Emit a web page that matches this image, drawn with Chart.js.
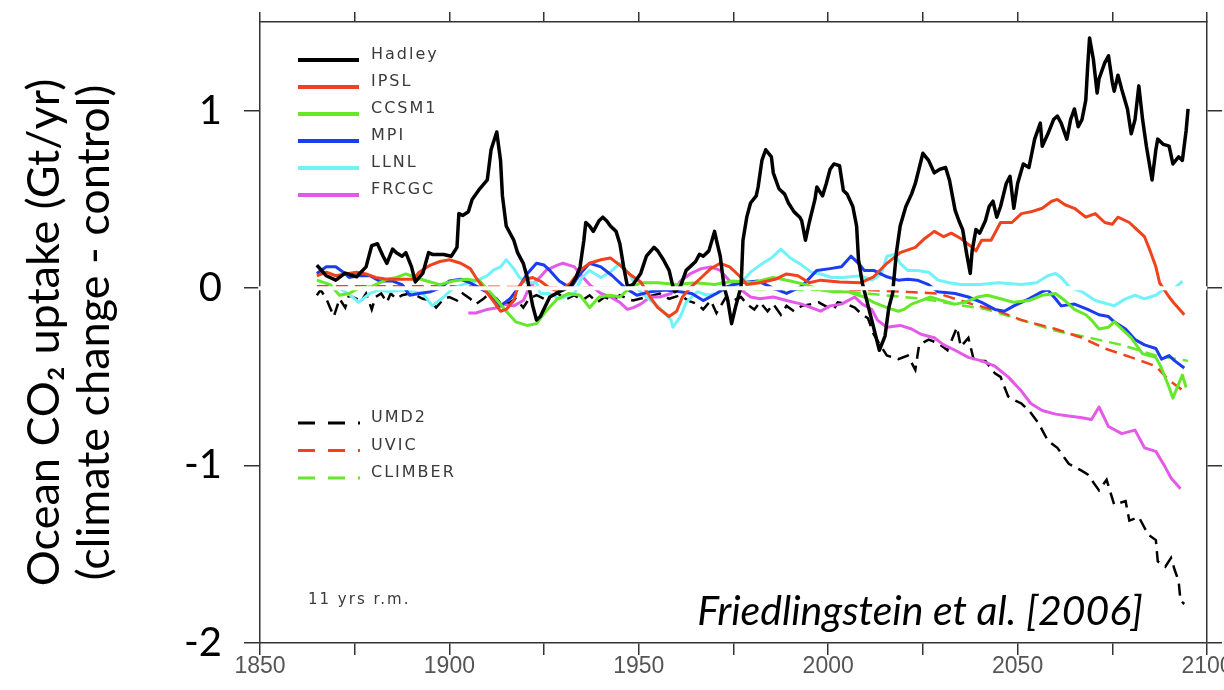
<!DOCTYPE html>
<html>
<head>
<meta charset="utf-8">
<script src="https://cdn.jsdelivr.net/npm/chart.js@4.4.1/dist/chart.umd.min.js"></script>
<style>
  html, body { margin: 0; padding: 0; background: #fff; }
  #myChart { display: block; }
</style>
</head>
<body>
<canvas id="myChart" width="1224" height="690"></canvas>
<script>
// ticks
const xTickYears = [1850, 1875, 1900, 1925, 1950, 1975, 2000, 2025, 2050, 2075, 2100];
const xLabelYears = [1850, 1900, 1950, 2000, 2050, 2100];
const yTickValues = [-2, -1, 0, 1];

// 11-year running means, [year, Gt/yr]
const hadley = [[1865,0.13],[1867.5,0.07],[1870,0.045],[1872.5,0.085],[1875.5,0.064],[1878,0.12],[1879.5,0.24],[1881,0.25],[1882.5,0.18],[1883.5,0.14],[1885,0.22],[1886,0.2],[1887.5,0.18],[1888.5,0.2],[1890,0.12],[1891,0.035],[1893,0.085],[1894.5,0.2],[1895.5,0.19],[1898.5,0.19],[1900.5,0.18],[1902,0.23],[1902.5,0.42],[1903.5,0.41],[1905,0.43],[1906,0.5],[1908,0.56],[1910,0.61],[1911,0.78],[1912.5,0.88],[1913.5,0.72],[1914,0.52],[1915,0.35],[1917,0.27],[1918,0.2],[1919.5,0.14],[1920.5,0.064],[1922,-0.1],[1923,-0.18],[1924,-0.16],[1926.5,-0.05],[1929,-0.02],[1932,0.01],[1933.5,0.064],[1934.5,0.12],[1935.5,0.27],[1936,0.37],[1937,0.35],[1938,0.32],[1939.5,0.38],[1940.5,0.4],[1941.5,0.38],[1942.5,0.35],[1944,0.32],[1945,0.25],[1946,0.12],[1947,0.01],[1948.5,0.02],[1950.5,0.083],[1952,0.18],[1954,0.23],[1955,0.21],[1956.5,0.16],[1958,0.1],[1959,0.01],[1959.5,-0.02],[1961,0.01],[1962.5,0.1],[1963.5,0.12],[1965,0.15],[1966,0.19],[1967,0.18],[1968.5,0.21],[1970,0.32],[1970.5,0.27],[1971.5,0.18],[1972.5,0.01],[1973.5,-0.07],[1974.5,-0.2],[1975.5,-0.11],[1977,0.01],[1977.5,0.27],[1978.5,0.4],[1979.5,0.48],[1981,0.52],[1981.5,0.57],[1982.5,0.72],[1983.5,0.78],[1985,0.74],[1985.5,0.65],[1987,0.56],[1988.5,0.53],[1989.5,0.48],[1991,0.43],[1992.5,0.4],[1993,0.38],[1994,0.27],[1995,0.37],[1996.5,0.5],[1997,0.57],[1998.5,0.52],[1999.5,0.59],[2000.5,0.67],[2001.5,0.7],[2003,0.69],[2004,0.55],[2005,0.53],[2006.5,0.46],[2007.5,0.35],[2008,0.16],[2009,0.03],[2011.5,-0.18],[2013.5,-0.35],[2015,-0.27],[2016,-0.11],[2017,-0.03],[2018,0.2],[2019,0.35],[2020.5,0.46],[2022,0.53],[2023,0.59],[2025,0.76],[2026.5,0.72],[2028,0.65],[2029.5,0.67],[2031,0.68],[2032,0.61],[2033.5,0.44],[2034.5,0.38],[2035.5,0.33],[2036.5,0.2],[2037.5,0.083],[2038,0.21],[2039,0.33],[2040,0.31],[2041.5,0.38],[2042.5,0.46],[2043.5,0.49],[2044.5,0.4],[2045.5,0.46],[2047,0.59],[2048,0.63],[2049,0.45],[2050,0.59],[2051.5,0.7],[2053,0.68],[2054.5,0.84],[2056,0.93],[2056.5,0.8],[2058,0.87],[2059.5,0.95],[2060.5,0.97],[2061.5,0.93],[2063,0.84],[2064,0.95],[2065,1.01],[2066,0.91],[2067,0.95],[2068,1.06],[2068.5,1.25],[2069,1.41],[2070,1.29],[2071,1.1],[2071.5,1.18],[2073,1.27],[2074,1.31],[2075,1.16],[2075.5,1.11],[2076.5,1.2],[2077.5,1.12],[2079,1.01],[2080,0.87],[2081,0.95],[2082,1.14],[2083,0.95],[2084,0.8],[2085.5,0.61],[2086.5,0.78],[2087,0.84],[2088.5,0.81],[2090,0.8],[2091,0.7],[2092.5,0.74],[2093.5,0.72],[2094.5,0.89],[2095,1.01]];

const ipsl = [[1865,0.07],[1867.5,0.09],[1870,0.07],[1872.5,0.08],[1875.5,0.09],[1878,0.08],[1880.5,0.06],[1883.5,0.05],[1887,0.05],[1890.5,0.05],[1892,0.09],[1895,0.13],[1897.5,0.15],[1900,0.16],[1903,0.14],[1905.5,0.11],[1907,0.06],[1909,0],[1911.5,-0.07],[1913.5,-0.13],[1915,-0.12],[1917,-0.07],[1918,0],[1920,0.05],[1922,0.06],[1924,0.04],[1926.5,0],[1929,-0.02],[1932,0.03],[1934.5,0.1],[1937,0.14],[1940,0.16],[1942.5,0.17],[1945,0.13],[1947.5,0.08],[1950.5,0.035],[1953,-0.05],[1955,-0.11],[1958,-0.16],[1960,-0.13],[1961.5,-0.05],[1963.5,0],[1966.5,0.06],[1969,0.11],[1971.5,0.14],[1974,0.12],[1977,0.06],[1978.5,0.02],[1982,0.03],[1986,0.05],[1989,0.08],[1992,0.07],[1995,0.03],[1998,0.045],[2003,0.035],[2008.5,0.03],[2012,0.064],[2015.5,0.14],[2019,0.2],[2023,0.23],[2025.5,0.28],[2028,0.32],[2030.5,0.29],[2032.5,0.31],[2035,0.28],[2038,0.23],[2039,0.21],[2040.5,0.27],[2043,0.27],[2045.5,0.37],[2048.5,0.37],[2051,0.42],[2053.5,0.43],[2056.5,0.45],[2059,0.49],[2060.5,0.5],[2062.5,0.47],[2065,0.45],[2068,0.4],[2070.5,0.42],[2073,0.37],[2075,0.36],[2076.5,0.4],[2079.5,0.37],[2081.5,0.33],[2083.5,0.29],[2085,0.21],[2086.5,0.12],[2087.5,0.03],[2090,-0.05],[2091.5,-0.09],[2094,-0.15]];

const ccsm1 = [[1865,0.045],[1868.5,0.02],[1871,-0.04],[1873.5,-0.03],[1876,0],[1879.5,0.01],[1883.5,0.05],[1886,0.06],[1888.5,0.08],[1891,0.06],[1894,0.04],[1897.5,0.02],[1901,0.04],[1904.5,0.05],[1908,0.04],[1911.5,-0.04],[1915,-0.13],[1917.5,-0.19],[1920.5,-0.21],[1923,-0.2],[1925.5,-0.13],[1928.5,-0.06],[1931.5,-0.03],[1934.5,-0.04],[1937,-0.11],[1939.5,-0.05],[1942.5,-0.04],[1945,-0.05],[1947.5,0],[1950.5,0.03],[1955,0.03],[1960,0.02],[1965,0.03],[1970,0.02],[1975,0.04],[1980,0.03],[1985.5,0.06],[1990,0.04],[1994,0.02],[1998,-0.01],[2001.5,-0.02],[2005,-0.02],[2009.5,-0.05],[2012,-0.08],[2015.5,-0.11],[2018.5,-0.13],[2020,-0.12],[2022,-0.09],[2024.5,-0.07],[2027,-0.05],[2030,-0.07],[2033.5,-0.09],[2036,-0.08],[2039.5,-0.05],[2042,-0.04],[2045.5,-0.06],[2049,-0.08],[2053,-0.07],[2056.5,-0.04],[2060,-0.03],[2062.5,-0.07],[2065,-0.12],[2068,-0.15],[2069.5,-0.18],[2071.5,-0.23],[2074,-0.22],[2075.5,-0.19],[2077.5,-0.23],[2080,-0.28],[2083,-0.37],[2086.5,-0.39],[2088,-0.45],[2090,-0.56],[2091,-0.62],[2092.5,-0.54],[2093.5,-0.49],[2094.5,-0.56]];

const mpi = [[1865,0.083],[1867.5,0.12],[1870,0.12],[1872,0.09],[1873.5,0.06],[1876,0.07],[1879,0.07],[1881.5,0.04],[1885,0.04],[1887.5,0.02],[1889.5,-0.04],[1892,-0.03],[1895,-0.02],[1897.5,0],[1900,0.04],[1903,0.05],[1905.5,0.03],[1908,0],[1910.5,-0.03],[1913.5,-0.1],[1916,-0.06],[1918.5,0.01],[1920.5,0.08],[1923,0.14],[1925,0.13],[1926.5,0.1],[1929,0.04],[1932,0],[1934.5,0.08],[1937,0.14],[1940,0.12],[1943,0.07],[1946.5,0],[1949.5,-0.04],[1953,-0.02],[1957,-0.01],[1961,-0.02],[1964,-0.03],[1967,-0.07],[1970.5,-0.03],[1973.5,0.01],[1977,0.03],[1981.5,0.04],[1985.5,0],[1989,-0.03],[1993,0.01],[1997,0.1],[2000.5,0.11],[2003.5,0.12],[2006,0.18],[2008,0.14],[2009.5,0.1],[2012,0.1],[2015.5,0.064],[2018.5,0.045],[2021,0.05],[2023.5,0.045],[2026.5,0.02],[2029,-0.02],[2033.5,-0.03],[2037,-0.05],[2040.5,-0.08],[2044,-0.12],[2046.5,-0.13],[2049,-0.1],[2053,-0.06],[2056.5,-0.02],[2058,-0.01],[2060,-0.06],[2061.5,-0.1],[2065,-0.09],[2068.5,-0.12],[2071.5,-0.15],[2074,-0.16],[2075.5,-0.19],[2078.5,-0.23],[2081,-0.29],[2083.5,-0.32],[2086.5,-0.34],[2088,-0.4],[2090,-0.38],[2091.5,-0.41],[2094,-0.45]];

const llnl = [[1871,0],[1874.5,-0.05],[1876,-0.08],[1879,-0.03],[1881.5,-0.01],[1884,-0.02],[1887,-0.01],[1890,-0.02],[1893,-0.03],[1895.5,-0.1],[1898.5,-0.05],[1901,0],[1903.5,0.02],[1907,0.04],[1910,0.07],[1911.5,0.1],[1913.5,0.12],[1915,0.16],[1917,0.11],[1918.5,0.06],[1920.5,0.03],[1923,0.03],[1924,-0.03],[1926.5,-0.03],[1929,-0.06],[1933,-0.03],[1935,0.06],[1937,0.1],[1940,0.06],[1942.5,0.09],[1945,0.14],[1947.5,0.08],[1949.5,0],[1952,-0.05],[1955.5,-0.11],[1958.5,-0.18],[1959,-0.22],[1961,-0.16],[1962.5,-0.08],[1965.5,-0.02],[1968,-0.04],[1970.5,-0.03],[1973.5,0],[1977,0.03],[1979.5,0.09],[1982,0.13],[1985,0.17],[1987.5,0.22],[1990,0.17],[1993,0.13],[1995.5,0.09],[1998,0.08],[2001,0.06],[2004,0.06],[2008.5,0.07],[2011.5,0.045],[2014,0.08],[2015.5,0.18],[2017.5,0.19],[2019,0.14],[2021,0.1],[2023.5,0.1],[2026.5,0.09],[2029,0.045],[2032,0.03],[2035,0.02],[2040,0.02],[2045,0.03],[2051,0.02],[2055,0.03],[2058,0.07],[2060,0.083],[2061.5,0.06],[2064,0],[2067,-0.02],[2070.5,-0.07],[2074,-0.09],[2075.5,-0.1],[2078.5,-0.06],[2081,-0.04],[2083.5,-0.06],[2086.5,-0.04],[2089,0],[2091.5,0],[2093.5,0.04]];

const frcgc = [[1905,-0.14],[1907,-0.14],[1910,-0.12],[1912.5,-0.11],[1914,-0.09],[1917,-0.1],[1919.5,-0.07],[1921,0],[1924,0.064],[1925.5,0.1],[1928.5,0.13],[1930,0.14],[1933,0.12],[1934.5,0.08],[1937,0.02],[1940,-0.03],[1942.5,-0.05],[1945,-0.08],[1947,-0.12],[1948.5,-0.11],[1950.5,-0.09],[1953,-0.05],[1955.5,-0.05],[1958.5,-0.03],[1961,0.04],[1963.5,0.08],[1966.5,0.11],[1969,0.12],[1971.5,0.1],[1974,0.04],[1977,-0.01],[1979.5,-0.05],[1982,-0.06],[1985.5,-0.05],[1989,-0.07],[1993,-0.09],[1995.5,-0.11],[1998,-0.13],[2000.5,-0.1],[2003.5,-0.09],[2007,-0.05],[2009,-0.09],[2011.5,-0.12],[2013,-0.18],[2015.5,-0.22],[2019,-0.21],[2022,-0.23],[2024.5,-0.26],[2028,-0.28],[2030.5,-0.32],[2033.5,-0.35],[2037,-0.39],[2040.5,-0.41],[2044,-0.44],[2047.5,-0.5],[2051,-0.58],[2053.5,-0.65],[2056.5,-0.69],[2060,-0.71],[2063.5,-0.72],[2067,-0.73],[2069.5,-0.74],[2071.5,-0.67],[2074,-0.78],[2077.5,-0.82],[2081,-0.8],[2083.5,-0.9],[2086.5,-0.92],[2089,-1.01],[2090.5,-1.07],[2093,-1.13]];

const umd2 = [[1865,-0.04],[1866,-0.01],[1867.5,-0.06],[1868.5,-0.11],[1869.5,-0.16],[1871,-0.06],[1872.5,-0.11],[1873.5,-0.04],[1875.5,-0.06],[1876.5,-0.08],[1878,-0.03],[1879.5,-0.12],[1880.5,-0.05],[1882,-0.03],[1883.5,-0.08],[1884.5,-0.03],[1886,-0.06],[1887.5,-0.04],[1889.5,-0.03],[1891,-0.04],[1893,-0.06],[1895,-0.07],[1896.5,-0.11],[1898.5,-0.06],[1900,-0.05],[1902,-0.07],[1903.5,-0.03],[1905.5,-0.06],[1907,-0.09],[1909,-0.06],[1910.5,-0.03],[1912.5,-0.06],[1914,-0.1],[1916,-0.08],[1917.5,-0.06],[1919.5,-0.11],[1921,-0.06],[1923,-0.04],[1925,-0.06],[1926.5,-0.05],[1928.5,-0.03],[1931,-0.06],[1933,-0.04],[1935,-0.07],[1937,-0.04],[1939,-0.08],[1941,-0.05],[1943,-0.07],[1945,-0.04],[1947,-0.06],[1948.5,-0.07],[1952,-0.05],[1955.5,-0.03],[1958,-0.06],[1961,-0.04],[1963,-0.07],[1965.5,-0.09],[1967,-0.12],[1969,-0.07],[1970.5,-0.14],[1973,-0.05],[1975,-0.07],[1977,-0.05],[1978.5,-0.09],[1980.5,-0.12],[1982,-0.08],[1984,-0.13],[1985.5,-0.09],[1987.5,-0.15],[1989,-0.1],[1991,-0.13],[1993,-0.1],[1995.5,-0.09],[1997.5,-0.08],[2000,-0.11],[2001.5,-0.12],[2002.5,-0.08],[2005,-0.09],[2007,-0.11],[2008.5,-0.14],[2010.5,-0.17],[2012,-0.26],[2014,-0.33],[2015.5,-0.38],[2018.5,-0.4],[2021,-0.38],[2023,-0.46],[2024,-0.32],[2026.5,-0.29],[2029,-0.31],[2031.5,-0.35],[2034,-0.22],[2035,-0.33],[2037,-0.28],[2038.5,-0.41],[2041.5,-0.41],[2044,-0.48],[2045.5,-0.5],[2047.5,-0.61],[2049,-0.63],[2051,-0.65],[2053,-0.69],[2055.5,-0.76],[2056.5,-0.8],[2058,-0.86],[2060.5,-0.9],[2063.5,-0.99],[2067,-1.03],[2068.5,-1.05],[2071.5,-1.14],[2073.5,-1.08],[2075.5,-1.22],[2078.5,-1.2],[2079.5,-1.31],[2082,-1.29],[2084.5,-1.39],[2086.5,-1.42],[2087,-1.54],[2089,-1.57],[2090.5,-1.52],[2091.5,-1.59],[2092.5,-1.65],[2093,-1.76],[2094,-1.78]];

const uvic = [[1865,0.01],[1900,0.01],[1950,0],[1990,0],[2000,-0.005],[2010,-0.01],[2020,-0.02],[2029,-0.03],[2038,-0.09],[2045,-0.13],[2051,-0.18],[2060,-0.23],[2067,-0.28],[2073,-0.34],[2080,-0.39],[2086.5,-0.44],[2090,-0.52],[2094.5,-0.59]];

const climber = [[1865,0],[1950,0],[2000,-0.01],[2015,-0.04],[2025,-0.06],[2033,-0.09],[2042,-0.12],[2051,-0.18],[2060,-0.24],[2069,-0.28],[2077.5,-0.32],[2086.5,-0.38],[2095,-0.41]];

const zeroLine = [[1849.5, 0], [2100, 0]];

const solidNames = ['Hadley', 'IPSL', 'CCSM1', 'MPI', 'LLNL', 'FRCGC'];
const solidColors = ['#000000', '#f0421c', '#66e82a', '#1c3cf0', '#70f2f8', '#e45ae8'];
const dashedNames = ['UMD2', 'UVIC', 'CLIMBER'];
const dashedColors = ['#000000', '#f0421c', '#66e82a'];

const solidData = [hadley, ipsl, ccsm1, mpi, llnl, frcgc];
const dashedData = [umd2, uvic, climber];

const datasets = [{
  label: 'zero', data: zeroLine, borderColor: '#ffffff', borderWidth: 4,
  pointRadius: 0, order: -1, clip: false
}];
solidNames.forEach((name, i) => {
  datasets.push({
    label: name, data: solidData[i], borderColor: solidColors[i],
    borderWidth: i === 0 ? 3.5 : 3, pointRadius: 0, tension: 0,
    borderJoinStyle: 'round', order: i
  });
});
dashedNames.forEach((name, i) => {
  datasets.push({
    label: name, data: dashedData[i], borderColor: dashedColors[i],
    borderWidth: 2.5, borderDash: [12, 7], pointRadius: 0, tension: 0,
    order: 10 + i
  });
});
datasets.forEach(d => { d.xAxisID = 'x'; d.yAxisID = 'y'; });

const frameColor = '#333333';

// hand-placed legend and notes, like the original figure
const decorPlugin = {
  id: 'decor',
  afterDatasetsDraw(chart) {
    const ctx = chart.ctx;
    ctx.save();
    ctx.textBaseline = 'middle';
    ctx.textAlign = 'left';
    ctx.font = '16px "DejaVu Sans"';
    ctx.letterSpacing = '2px';
    solidNames.forEach((name, i) => {
      const y = 60 + i * 27;
      ctx.strokeStyle = solidColors[i];
      ctx.lineWidth = 4;
      ctx.setLineDash([]);
      ctx.beginPath(); ctx.moveTo(298, y); ctx.lineTo(359, y); ctx.stroke();
      ctx.fillStyle = '#3a3a3a';
      ctx.fillText(name, 371, y - 5);
    });
    dashedNames.forEach((name, i) => {
      const y = 423 + i * 27.5;
      ctx.strokeStyle = dashedColors[i];
      ctx.lineWidth = 3;
      ctx.setLineDash([17, 13]);
      ctx.beginPath(); ctx.moveTo(298, y); ctx.lineTo(360, y); ctx.stroke();
      ctx.fillStyle = '#3a3a3a';
      ctx.fillText(name, 371, y - 5);
    });
    ctx.setLineDash([]);
    ctx.font = '15px "DejaVu Sans"';
    ctx.fillText('11 yrs r.m.', 308, 600);
    ctx.letterSpacing = '0px';
    ctx.fillStyle = '#000';
    ctx.font = 'italic 41px Lato';
    ctx.textAlign = 'right';
    ctx.textBaseline = 'alphabetic';
    ctx.fillText('Friedlingstein et al. [2006]', 1143, 625);
    ctx.restore();
  }
};

const setXTicks = s => { s.ticks = xTickYears.map(v => ({ value: v })); };
const setYTicks = s => { s.ticks = yTickValues.map(v => ({ value: v })); };
const noPad = s => { s.paddingTop = 0; s.paddingBottom = 0; s.paddingLeft = 0; s.paddingRight = 0; };

const ctx = document.getElementById('myChart').getContext('2d');
const chart = new Chart(ctx, {
  type: 'line',
  data: { datasets: datasets },
  options: {
    responsive: false,
    animation: false,
    devicePixelRatio: 1,
    layout: { padding: 0 },
    plugins: { legend: { display: false }, tooltip: { enabled: false } },
    scales: {
      x: {
        type: 'linear', position: 'bottom', min: 1850, max: 2100,
        afterBuildTicks: setXTicks,
        afterFit: s => { s.height = 47; noPad(s); },
        border: { color: frameColor, width: 1.5 },
        grid: { drawOnChartArea: false, drawTicks: true, tickLength: 12, color: frameColor, lineWidth: 1.5 },
        ticks: {
          autoSkip: false, maxRotation: 0, padding: 0, color: '#555',
          font: { family: '"Liberation Sans", sans-serif', size: 23, lineHeight: 1 },
          callback: v => xLabelYears.includes(v) ? String(v) : ''
        }
      },
      x2: {
        type: 'linear', position: 'top', min: 1850, max: 2100,
        afterBuildTicks: setXTicks,
        afterFit: s => { s.height = 22; noPad(s); },
        border: { color: frameColor, width: 1.5 },
        grid: { drawOnChartArea: false, drawTicks: true, tickLength: 10, color: frameColor, lineWidth: 1.5 },
        ticks: { display: false }
      },
      y: {
        type: 'linear', position: 'left', min: -2, max: 1.5, bounds: 'data',
        afterBuildTicks: setYTicks,
        afterFit: s => { s.width = 260; noPad(s); },
        border: { color: frameColor, width: 1.5 },
        grid: { drawOnChartArea: false, drawTicks: true, tickLength: 16, color: frameColor, lineWidth: 1.5 },
        ticks: { padding: 22, color: '#000', font: { family: 'Lato', size: 40 } },
        title: {
          display: true,
          text: ['Ocean CO\u2082 uptake (Gt/yr)', '(climate change - control)'],
          color: '#000',
          font: { family: 'Lato', size: 45, lineHeight: 1.11 },
          padding: { top: 20, bottom: 0 }
        }
      },
      y2: {
        type: 'linear', position: 'right', min: -2, max: 1.5, bounds: 'data',
        afterBuildTicks: setYTicks,
        afterFit: s => { s.width = 17; noPad(s); },
        border: { color: frameColor, width: 1.5 },
        grid: { drawOnChartArea: false, drawTicks: true, tickLength: 15, color: frameColor, lineWidth: 1.5 },
        ticks: { display: false }
      }
    }
  },
  plugins: [decorPlugin]
});
</script>
</body>
</html>
